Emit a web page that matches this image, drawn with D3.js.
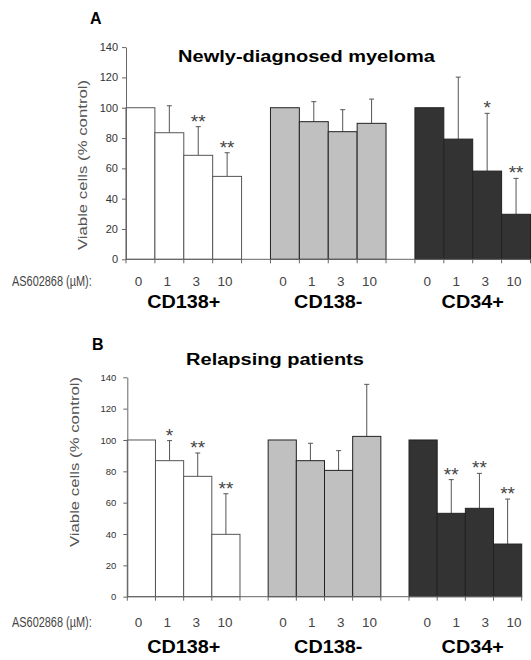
<!DOCTYPE html>
<html>
<head>
<meta charset="utf-8">
<style>
  body { margin: 0; background: #fff; }
  svg { display: block; font-family: "Liberation Sans", Arial, sans-serif; }
</style>
</head>
<body>
<script src="https://cdn.jsdelivr.net/npm/d3@7"></script>
<script>
const groups = ["CD138+", "CD138-", "CD34+"];
const doses = ["0", "1", "3", "10"];
const doseLabel = "AS602868 (µM):";
const yLabel = "Viable cells (% control)";
const yTicks = [0, 20, 40, 60, 80, 100, 120, 140];
const fills = ["#ffffff", "#c0c0c0", "#333333"];

// A: newly-diagnosed, mean and SD per group x dose
const newlyTitle = "Newly-diagnosed myeloma";
const newlyMean = [[100, 83.5, 68.6, 54.7], [100, 90.8, 84.2, 89.7], [100, 79.3, 58.2, 29.7]];
const newlyErr  = [[0, 17.8, 18.9, 15.6], [0, 13.2, 14.5, 16.0], [0, 40.9, 38.1, 23.7]];
const newlySig  = [["", "", "**", "**"], ["", "", "", ""], ["", "", "*", "**"]];

// B: relapsing
const relapseTitle = "Relapsing patients";
const relapseMean = [[100, 86.8, 76.8, 39.8], [100, 86.8, 80.6, 102.3], [100, 53.2, 56.4, 33.6]];
const relapseErr  = [[0, 12.8, 14.9, 25.9], [0, 11.1, 12.6, 33.2], [0, 21.5, 22.3, 28.7]];
const relapseSig  = [["", "*", "**", "**"], ["", "", "", ""], ["", "**", "**", "**"]];

const width = 531, height = 660;
const svg = d3.select("body").append("svg").attr("width", width).attr("height", height);

// 4 bars per group, one empty slot between groups
const slots = [];
groups.forEach((g, gi) => {
  doses.forEach(d => slots.push(g + "|" + d));
  if (gi < groups.length - 1) slots.push("gap" + gi);
});

const panels = [
  {letter: "A", title: newlyTitle, mean: newlyMean, err: newlyErr, sig: newlySig,
   x0: 126, x1: 530.5, yBase: 259.3, yTop: 47.1,
   letterX: 90, letterY: 24, titleX: 306.5, titleY: 62,
   ylabX: 82.5, ylabY: 165, tickFont: 11, tickPad: 4, doseY: 285.5, groupY: 307.5},
  {letter: "B", title: relapseTitle, mean: relapseMean, err: relapseErr, sig: relapseSig,
   x0: 127.3, x1: 521.7, yBase: 596.7, yTop: 377.3,
   letterX: 92, letterY: 350, titleX: 275, titleY: 365,
   ylabX: 74, ylabY: 462, tickFont: 9.5, tickPad: 7, doseY: 626.5, groupY: 653}
];

// text under both panels sits on panel A's columns
const xLab = d3.scaleBand().domain(slots).range([panels[0].x0, panels[0].x1]);

function stretch(sel, f) {
  sel.each(function() {
    const w = this.getComputedTextLength();
    d3.select(this).attr("textLength", w * f).attr("lengthAdjust", "spacingAndGlyphs");
  });
}

function drawPanel(p) {
  const x = d3.scaleBand().domain(slots).range([p.x0, p.x1]);
  const y = d3.scaleLinear().domain([0, 140]).range([p.yBase, p.yTop]);
  const g = svg.append("g");

  const rows = groups.flatMap((grp, gi) => doses.map((d, di) => ({
    key: grp + "|" + d, gi: gi, v: p.mean[gi][di], e: p.err[gi][di], s: p.sig[gi][di]
  })));

  // error bars (upper only)
  const eb = g.selectAll("g.err").data(rows.filter(d => d.e > 0)).join("g")
    .attr("stroke", "#555").attr("stroke-width", 1);
  eb.append("line")
    .attr("x1", d => x(d.key) + x.bandwidth() / 2).attr("x2", d => x(d.key) + x.bandwidth() / 2)
    .attr("y1", d => y(d.v)).attr("y2", d => y(d.v + d.e));
  eb.append("line")
    .attr("x1", d => x(d.key) + x.bandwidth() / 2 - 2.5).attr("x2", d => x(d.key) + x.bandwidth() / 2 + 2.5)
    .attr("y1", d => y(d.v + d.e)).attr("y2", d => y(d.v + d.e));

  g.selectAll("rect.bar").data(rows).join("rect")
    .attr("class", "bar")
    .attr("x", d => x(d.key)).attr("width", x.bandwidth())
    .attr("y", d => y(d.v)).attr("height", d => y(0) - y(d.v))
    .attr("fill", d => fills[d.gi])
    .attr("stroke", d => d.gi === 0 ? "#555" : "#222")
    .attr("stroke-width", 1);

  // significance stars
  g.selectAll("text.sig").data(rows.filter(d => d.s)).join("text")
    .attr("class", "sig")
    .attr("x", d => x(d.key) + x.bandwidth() / 2)
    .attr("y", d => y(d.v + d.e) + 1)
    .attr("text-anchor", "middle")
    .attr("font-size", 19).attr("fill", "#444")
    .text(d => d.s);

  // y axis
  const ya = g.append("g").attr("transform", `translate(${p.x0},0)`)
    .call(d3.axisLeft(y).tickValues(yTicks).tickSize(4).tickSizeOuter(0).tickPadding(p.tickPad));
  ya.selectAll("path, line").attr("stroke", "#666");
  ya.selectAll("text").attr("font-size", p.tickFont).attr("fill", "#333")
    .attr("font-family", "'Liberation Sans Narrow', 'Liberation Sans', Arial, sans-serif");

  // x axis: ticks on slot boundaries
  const bounds = slots.map(s => x(s)).concat([p.x1]);
  g.append("line").attr("x1", p.x0).attr("x2", p.x1 + 0.5)
    .attr("y1", y(0)).attr("y2", y(0)).attr("stroke", "#666");
  g.selectAll("line.xt").data(bounds).join("line")
    .attr("class", "xt")
    .attr("x1", d => d).attr("x2", d => d)
    .attr("y1", y(0)).attr("y2", y(0) + 4).attr("stroke", "#666");

  // labels
  g.append("text").attr("x", p.letterX).attr("y", p.letterY)
    .attr("font-size", 16).attr("font-weight", "bold").text(p.letter);
  g.append("text").attr("x", p.titleX).attr("y", p.titleY)
    .attr("text-anchor", "middle").attr("font-size", 16).attr("font-weight", "bold")
    .text(p.title).call(stretch, 1.25);
  g.append("text")
    .attr("transform", `translate(${p.ylabX},${p.ylabY}) rotate(-90)`)
    .attr("text-anchor", "middle").attr("dominant-baseline", "central")
    .attr("font-size", 13).attr("fill", "#555")
    .text(yLabel).call(stretch, 1.29);

  g.append("text").attr("x", 12).attr("y", p.doseY)
    .attr("font-size", 14).attr("fill", "#444")
    .text(doseLabel).call(stretch, 0.78);
  g.selectAll("text.dose").data(rows).join("text")
    .attr("class", "dose")
    .attr("x", d => xLab(d.key) + xLab.bandwidth() / 2 - 2)
    .attr("y", p.doseY)
    .attr("text-anchor", "middle").attr("font-size", 13.5).attr("fill", "#444")
    .text(d => d.key.split("|")[1]);
  g.selectAll("text.grp").data(groups).join("text")
    .attr("class", "grp")
    .attr("x", d => (xLab(d + "|" + doses[0]) + xLab(d + "|" + doses[3]) + xLab.bandwidth()) / 2)
    .attr("y", p.groupY)
    .attr("text-anchor", "middle").attr("font-size", 18).attr("font-weight", "bold")
    .text(d => d).call(stretch, 1.1);
}

panels.forEach(drawPanel);
</script>
</body>
</html>
